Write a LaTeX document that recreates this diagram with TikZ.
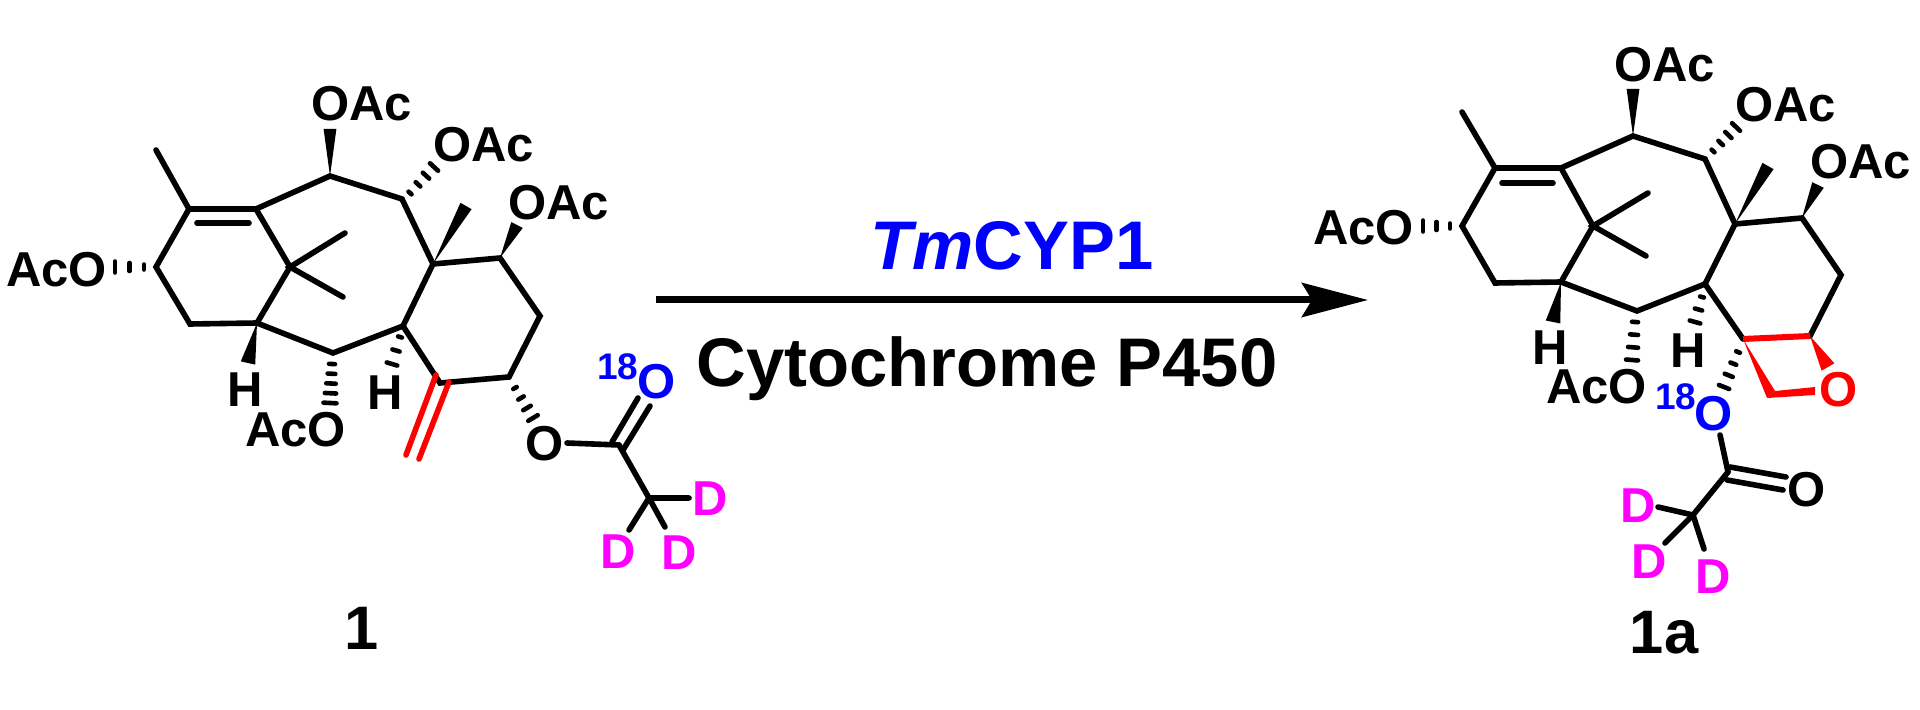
\documentclass[tikz,border=0pt]{standalone}
\usepackage{fontspec}
\setmainfont{Liberation Sans}
\usetikzlibrary{calc,arrows.meta}
\definecolor{dblue}{RGB}{0,0,255}
\definecolor{dmag}{RGB}{255,0,255}
\definecolor{dred}{RGB}{255,0,0}
\tikzset{
  bond/.style={line width=2.8pt,line cap=round,line join=miter,black},
  redbond/.style={bond,draw=dred},
  hashline/.style={line width=2.3pt,line cap=round,black},
  lab/.style={inner sep=0pt,outer sep=0pt,anchor=base west,font=\bfseries\fontsize{24.5}{28}\selectfont,text=black},
  labc/.style={lab,anchor=base},
  iso/.style={lab,font=\bfseries\fontsize{18.5}{22}\selectfont,text=dblue},
  title/.style={inner sep=0pt,anchor=base,font=\bfseries\fontsize{34.4}{40}\selectfont},
  cmpd/.style={inner sep=0pt,anchor=base,font=\bfseries\fontsize{30.7}{36}\selectfont,text=black},
  rxn/.style={line width=3.5pt,-{Stealth[length=33pt,width=17pt,inset=5pt]}}
}
\newcommand\hashbond[5]{\foreach \i in {1,...,#3}{%
  \pgfmathsetmacro\hasht{(\i-1)/(#3-1)}%
  \pgfmathsetmacro\hashw{(#4+(#5-#4)*\hasht)/4-1}%
  \draw[hashline] ($(#1)!\hasht!(#2) + (#1)!\hashw pt!90:(#2) - (#1)$) -- ($(#1)!\hasht!(#2) + (#1)!\hashw pt!-90:(#2) - (#1)$);}}
\newcommand\wedgebond[4][black]{\fill[#1] (#2) -- ($(#3)!#4!90:(#2)$) -- ($(#3)!#4!-90:(#2)$) -- cycle;}
\begin{document}
\begin{tikzpicture}[x=0.5pt,y=-0.5pt]
\useasboundingbox (0,0) rectangle (1920,710);
% ---------- compound 1 atoms
\foreach \n/\p in {Lme/{156,150},La/{189,209},Lb/{256,209},Lc/{290,267},Ld/{257,323},Le/{190,324},Lf/{156,267},
  Lia/{197,223},Lib/{249,223},Lt/{330,176},Lg/{402,199},Lq/{433,264},Lh/{500,258},Li/{540,316},Lj/{509,377},
  Lx/{440,383},Lk/{403,326},Lm/{333,353},Lma/{345,233},Lmb/{343,297},
  LwA/{330,129},LwB/{466,206},LwC/{517,225},LwD/{248,363},
  LhA/{144,267},LhB/{115,267},LhC/{410,193},LhD/{434,167},LhE/{332,364},LhF/{330,403},
  LhG/{400,337},LhH/{392,364},LhI/{515,388},LhJ/{533,418},
  Lra/{436,375},Lrb/{406,455},Lrc/{449,382},Lrd/{419,459},
  Loa/{567,443},Lco/{619,445},Ldaa/{612,442},Ldab/{638,398},Ldba/{623,450},Ldbb/{650,406},
  Lcd/{649,498},Lda/{689,498},Ldb/{629,530},Ldc/{665,527}}
  {\coordinate (\n) at (\p);}
% skeleton of 1
\draw[bond] (Lme) -- (La) -- (Lb) -- (Lc) -- (Ld) -- (Le) -- (Lf) -- (La);
\draw[bond] (Lia) -- (Lib);
\draw[bond] (Lb) -- (Lt) -- (Lg) -- (Lq) -- (Lh) -- (Li) -- (Lj) -- (Lx) -- (Lk) -- (Lm) -- (Ld);
\draw[bond] (Lq) -- (Lk);
\draw[bond] (Lma) -- (Lc) -- (Lmb);
\wedgebond{Lt}{LwA}{3.2pt}
\wedgebond{Lq}{LwB}{3.2pt}
\wedgebond{Lh}{LwC}{3.2pt}
\wedgebond{Ld}{LwD}{3.7pt}
\hashbond{LhA}{LhB}{3}{9}{15}
\hashbond{LhC}{LhD}{4}{8}{15}
\hashbond{LhE}{LhF}{5}{10}{17}
\hashbond{LhG}{LhH}{3}{8}{15}
\hashbond{LhI}{LhJ}{4}{8}{15}
\draw[redbond] (Lra) -- (Lrb);
\draw[redbond] (Lrc) -- (Lrd);
\draw[bond] (Loa) -- (Lco);
\draw[bond] (Ldaa) -- (Ldab);
\draw[bond] (Ldba) -- (Ldbb);
\draw[bond] (Lco) -- (Lcd) -- (Lda);
\draw[bond] (Lcd) -- (Ldb);
\draw[bond] (Lcd) -- (Ldc);
% labels of 1
\node[lab] (LAcOa) at (6,287) {AcO};
\node[lab] (LOAca) at (311,121) {OAc};
\node[lab] (LOAcb) at (433,162) {OAc};
\node[lab] (LOAcc) at (508,220) {OAc};
\node[lab] (LAcOb) at (245,447) {AcO};
\node[lab] (LHa) at (227,407) {H};
\node[lab] (LHb) at (367,410) {H};
\node[labc] (LO) at (545,460) {O};
\node[iso] (L18) at (597,380) {18};
\node[labc,text=dblue] (LOb) at (657,399) {O};
\node[labc,text=dmag] (LDa) at (710,516) {D};
\node[labc,text=dmag] (LDb) at (618,568) {D};
\node[labc,text=dmag] (LDc) at (679,569) {D};
\node[cmpd] (n1) at (362,649) {1};
% ---------- reaction arrow
\coordinate (ArS) at (656,300);
\coordinate (ArE) at (1368,300);
\draw[rxn] (ArS) -- (ArE);
\node[title,text=dblue] (enz) at (1012,270) {\textit{Tm}CYP1};
\node[title,text=black] (cyp) at (987,387) {Cytochrome P450};
% ---------- compound 1a atoms
\foreach \n/\p in {Rme/{1462,112},Ra/{1495,168},Rb/{1561,168},Rc/{1593,226},Rd/{1561,282},Re/{1495,283},Rf/{1462,226},
  Ria/{1502,183},Rib/{1553,183},Rt/{1633,136},Rg/{1705,159},Rq/{1735,224},Rh/{1802,218},Ri/{1841,275},Rj/{1810,336},
  Rx/{1743,339},Rk/{1705,284},Rm/{1637,311},Rma/{1648,193},Rmb/{1646,256},
  RwA/{1633,89},RwB/{1768,166},RwC/{1818,185},RwD/{1553,322},
  RhA/{1450,226},RhB/{1423,226},RhC/{1713,151},RhD/{1736,127},RhE/{1635,322},RhF/{1632,360},
  RhG/{1702,297},RhH/{1695,322},RhI/{1738,352},RhJ/{1724,387},
  Rra/{1767,398},Rrb/{1775,391},Rrc/{1815,395},Rrd/{1815,387},RrE/{1828,367},
  Roa/{1720,435},Rco/{1728,472},Rdaa/{1730,467},Rdab/{1786,477},Rdba/{1727,480},Rdbb/{1783,490},
  Rcd/{1693,515},Rda/{1658,507},Rdb/{1665,543},Rdc/{1704,549}}
  {\coordinate (\n) at (\p);}
% skeleton of 1a
\draw[bond] (Rme) -- (Ra) -- (Rb) -- (Rc) -- (Rd) -- (Re) -- (Rf) -- (Ra);
\draw[bond] (Ria) -- (Rib);
\draw[bond] (Rb) -- (Rt) -- (Rg) -- (Rq) -- (Rh) -- (Ri) -- (Rj);
\draw[bond] (Rx) -- (Rk) -- (Rm) -- (Rd);
\draw[bond] (Rq) -- (Rk);
\draw[bond] (Rma) -- (Rc) -- (Rmb);
\wedgebond{Rt}{RwA}{3.2pt}
\wedgebond{Rq}{RwB}{3.2pt}
\wedgebond{Rh}{RwC}{3.2pt}
\wedgebond{Rd}{RwD}{3.7pt}
\hashbond{RhA}{RhB}{3}{9}{15}
\hashbond{RhC}{RhD}{4}{8}{15}
\hashbond{RhE}{RhF}{4}{10}{16}
\hashbond{RhG}{RhH}{3}{8}{15}
\hashbond{RhI}{RhJ}{4}{8}{15}
% red oxetane
\draw[redbond,line cap=butt,line width=3pt] (Rx) -- (Rj);
\fill[dred] (Rx) -- (Rra) -- (Rrb) -- cycle;
\fill[dred] (Rra) -- (Rrc) -- (Rrd) -- (Rrb) -- cycle;
\wedgebond[dred]{Rj}{RrE}{3.7pt}
\draw[bond] (Roa) -- (Rco);
\draw[bond] (Rdaa) -- (Rdab);
\draw[bond] (Rdba) -- (Rdbb);
\draw[bond] (Rco) -- (Rcd) -- (Rda);
\draw[bond] (Rcd) -- (Rdb);
\draw[bond] (Rcd) -- (Rdc);
% labels of 1a
\node[lab] (RAcOa) at (1313,245) {AcO};
\node[lab] (ROAca) at (1614,82) {OAc};
\node[lab] (ROAcb) at (1735,122) {OAc};
\node[lab] (ROAcc) at (1810,179) {OAc};
\node[lab] (RAcOb) at (1546,404) {AcO};
\node[lab] (RHa) at (1532,365) {H};
\node[lab] (RHb) at (1670,368) {H};
\node[labc,text=dred] (ROr) at (1839,407) {O};
\node[iso] (R18) at (1655,410) {18};
\node[labc,text=dblue] (ROb) at (1714,430) {O};
\node[labc] (ROk) at (1807,506) {O};
\node[labc,text=dmag] (RDa) at (1638,522) {D};
\node[labc,text=dmag] (RDb) at (1649,578) {D};
\node[labc,text=dmag] (RDc) at (1713,593) {D};
\node[cmpd] (n1a) at (1664,653) {1a};
\end{tikzpicture}
\end{document}
